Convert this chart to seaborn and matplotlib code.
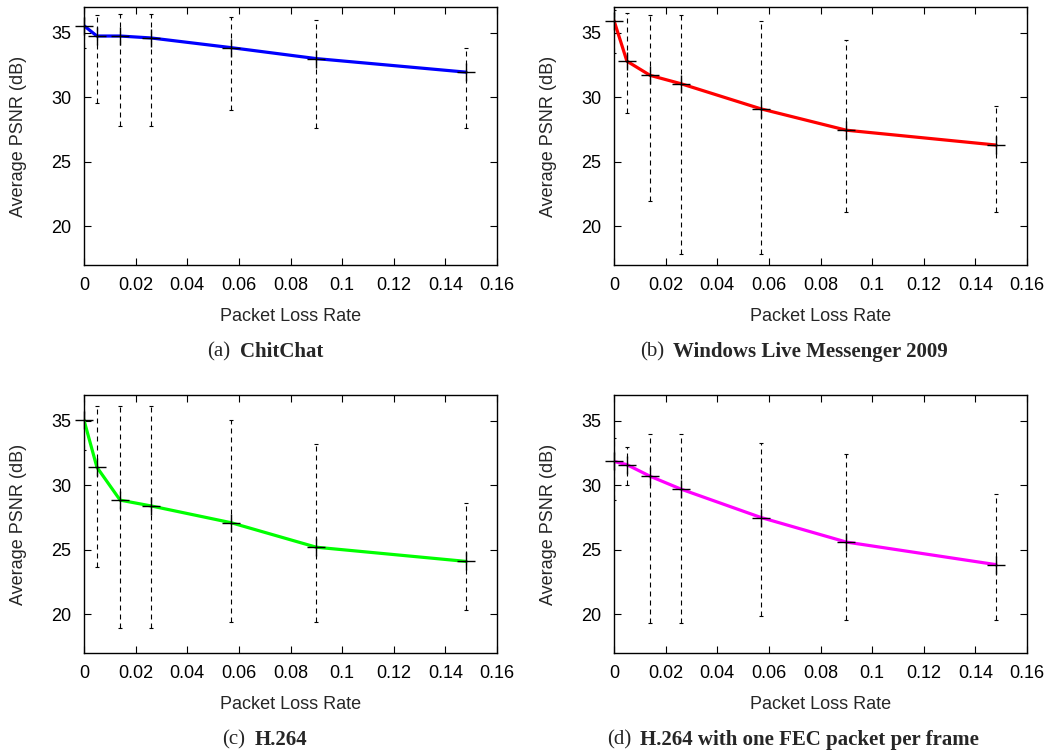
import numpy as np
import pandas as pd
import seaborn as sns
import matplotlib.pyplot as plt

# Packet loss rates tested
loss_rate = [0, 0.005, 0.014, 0.026, 0.057, 0.090, 0.148]

# (a) ChitChat
chitchat_mean = [35.55, 34.75, 34.75, 34.6, 33.85, 33.0, 31.95]
chitchat_low = [33.8, 29.55, 27.8, 27.8, 29.0, 27.65, 27.65]
chitchat_high = [37.5, 36.35, 36.45, 36.45, 36.25, 36.0, 33.8]

# (b) Windows Live Messenger 2009
wlm_mean = [35.95, 32.8, 31.7, 31.05, 29.1, 27.45, 26.3]
wlm_low = [33.4, 28.75, 21.95, 17.85, 17.85, 21.1, 21.1]
wlm_high = [36.8, 36.55, 36.4, 36.35, 35.9, 34.45, 29.35]

# (c) H.264
h264_mean = [35.05, 31.4, 28.85, 28.4, 27.1, 25.2, 24.1]
h264_low = [32.7, 23.65, 18.9, 18.9, 19.4, 19.4, 20.3]
h264_high = [37.4, 36.15, 36.15, 36.15, 35.05, 33.2, 28.6]

# (d) H.264 with one FEC packet per frame
fec_mean = [31.85, 31.6, 30.7, 29.7, 27.5, 25.6, 23.85]
fec_low = [28.85, 30.0, 19.35, 19.35, 19.85, 19.55, 19.55]
fec_high = [33.7, 32.95, 33.95, 33.95, 33.3, 32.45, 29.35]

xticks = [0, 0.02, 0.04, 0.06, 0.08, 0.1, 0.12, 0.14, 0.16]
xtick_labels = ["0", "0.02", "0.04", "0.06", "0.08", "0.1", "0.12", "0.14", "0.16"]
yticks = [20, 25, 30, 35]

sns.set_style("ticks")
plt.rcParams["font.family"] = ["Liberation Sans", "DejaVu Sans"]
plt.rcParams["xtick.direction"] = "in"
plt.rcParams["ytick.direction"] = "in"

panels = [
    ("(a)", "ChitChat", chitchat_mean, chitchat_low, chitchat_high, "#0000ff"),
    ("(b)", "Windows Live Messenger 2009", wlm_mean, wlm_low, wlm_high, "#ff0000"),
    ("(c)", "H.264", h264_mean, h264_low, h264_high, "#00ff00"),
    ("(d)", "H.264 with one FEC packet per frame", fec_mean, fec_low, fec_high, "#ff00ff"),
]

W, H = 1054, 755
fig = plt.figure(figsize=(W / 100, H / 100), dpi=100)

# axes boxes in pixels: left, top
boxes = [(84, 7), (614, 7), (84, 395), (614, 395)]
cap_pos = [(207, 352), (640, 352), (222, 740), (607, 740)]
ax_w, ax_h = 413, 258

for i, (tag, name, mean, low, high, color) in enumerate(panels):
    left, top = boxes[i]
    ax = fig.add_axes([left / W, 1 - (top + ax_h) / H, ax_w / W, ax_h / H])

    df = pd.DataFrame({"rate": loss_rate, "psnr": mean})
    sns.lineplot(data=df, x="rate", y="psnr", color=color, linewidth=2.3,
                 errorbar=None, ax=ax, zorder=3)

    m = np.array(mean)
    yerr = [m - np.array(low), np.array(high) - m]
    eb = ax.errorbar(loss_rate, mean, yerr=yerr, fmt="none", ecolor="black",
                     elinewidth=0.8, capsize=1.6, capthick=0.8, zorder=2)
    eb[2][0].set_linestyle((0, (4.5, 3.6)))
    ax.plot(loss_rate, mean, "+", color="black", markersize=13, mew=1.0,
            clip_on=False, zorder=4)

    ax.set_xlim(0, 0.16)
    ax.set_ylim(17, 37)
    ax.set_xticks(xticks)
    ax.set_xticklabels(xtick_labels)
    ax.set_yticks(yticks)
    ax.tick_params(top=True, right=True, length=5, width=0.8,
                   labelsize=13, colors="black", pad=9)
    for s in ax.spines.values():
        s.set_linewidth(1.0)
        s.set_visible(True)
        s.set_color("black")
    ax.set_xlabel("Packet Loss Rate", fontsize=13, labelpad=10)
    ax.set_ylabel("Average PSNR (dB)", fontsize=13)
    ax.yaxis.set_label_coords(-0.138, 0.5)

    cx, cy = cap_pos[i]
    fig.text(cx / W, 1 - cy / H, tag, fontsize=15, family="Liberation Serif",
             ha="left", va="center")
    fig.text((cx + 33) / W, 1 - cy / H, name, fontsize=15,
             family="Liberation Serif", fontweight="bold", ha="left", va="center")

fig.savefig("out.png", dpi=100)
